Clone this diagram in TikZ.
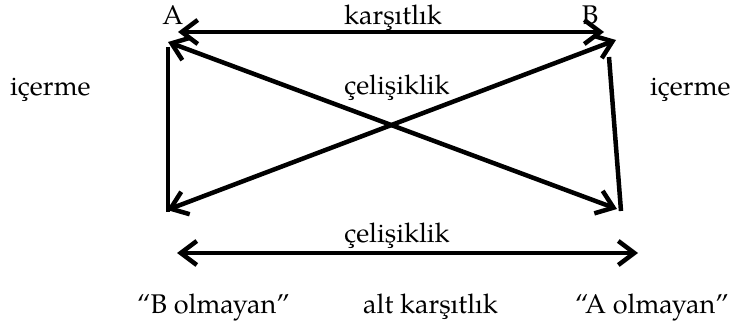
\documentclass[tikz,border=0pt]{standalone}
\usepackage{fontspec}
\setmainfont{TeX Gyre Pagella}
\usetikzlibrary{arrows.meta}
\tikzset{
  lbl/.style={inner sep=0pt, anchor=base, font=\fontsize{27}{32}\selectfont},
  lblw/.style={lbl, anchor=base west},
  conn/.style={line width=4.5pt, line cap=butt},
  barb/.tip={Straight Barb[length=16pt,width=24pt,line width=4.5pt]},
  tips/.style={barb-barb}
}
\begin{document}
\begin{tikzpicture}[x=1pt,y=-1pt]
\useasboundingbox (0,0) rectangle (744,331);
% endpoints
\coordinate (tl) at (178,32);
\coordinate (tr) at (604,32);
\coordinate (dA) at (168,42);
\coordinate (dB) at (616,40);
\coordinate (bl) at (167,210);
\coordinate (br) at (617,209);
\coordinate (lv1) at (168,47);
\coordinate (lv2) at (168,212);
\coordinate (rv1) at (609,57);
\coordinate (rv2) at (621,211);
\coordinate (cl) at (177,253);
\coordinate (cr) at (638,253);
% labels
\node[lbl] (A) at (173,25) {A};
\node[lbl] (B) at (590,25) {B};
\node[lbl] (kar) at (393,25) {karşıtlık};
\node[lbl] (cel1) at (397,95) {çelişiklik};
\node[lblw] (icl) at (10,96) {içerme};
\node[lblw] (icr) at (650,96) {içerme};
\node[lbl] (cel2) at (397,242) {çelişiklik};
\node[lblw] (bol) at (137,313) {“B olmayan”};
\node[lblw] (alt) at (363,313) {alt karşıtlık};
\node[lblw] (aol) at (575,313) {“A olmayan”};
% connectors
\draw[conn,tips] (tl) -- (tr);
\draw[conn,tips] (dA) -- (br);
\draw[conn,tips] (bl) -- (dB);
\draw[conn] (lv1) -- (lv2);
\draw[conn] (rv1) -- (rv2);
\draw[conn,tips] (cl) -- (cr);
\end{tikzpicture}
\end{document}
